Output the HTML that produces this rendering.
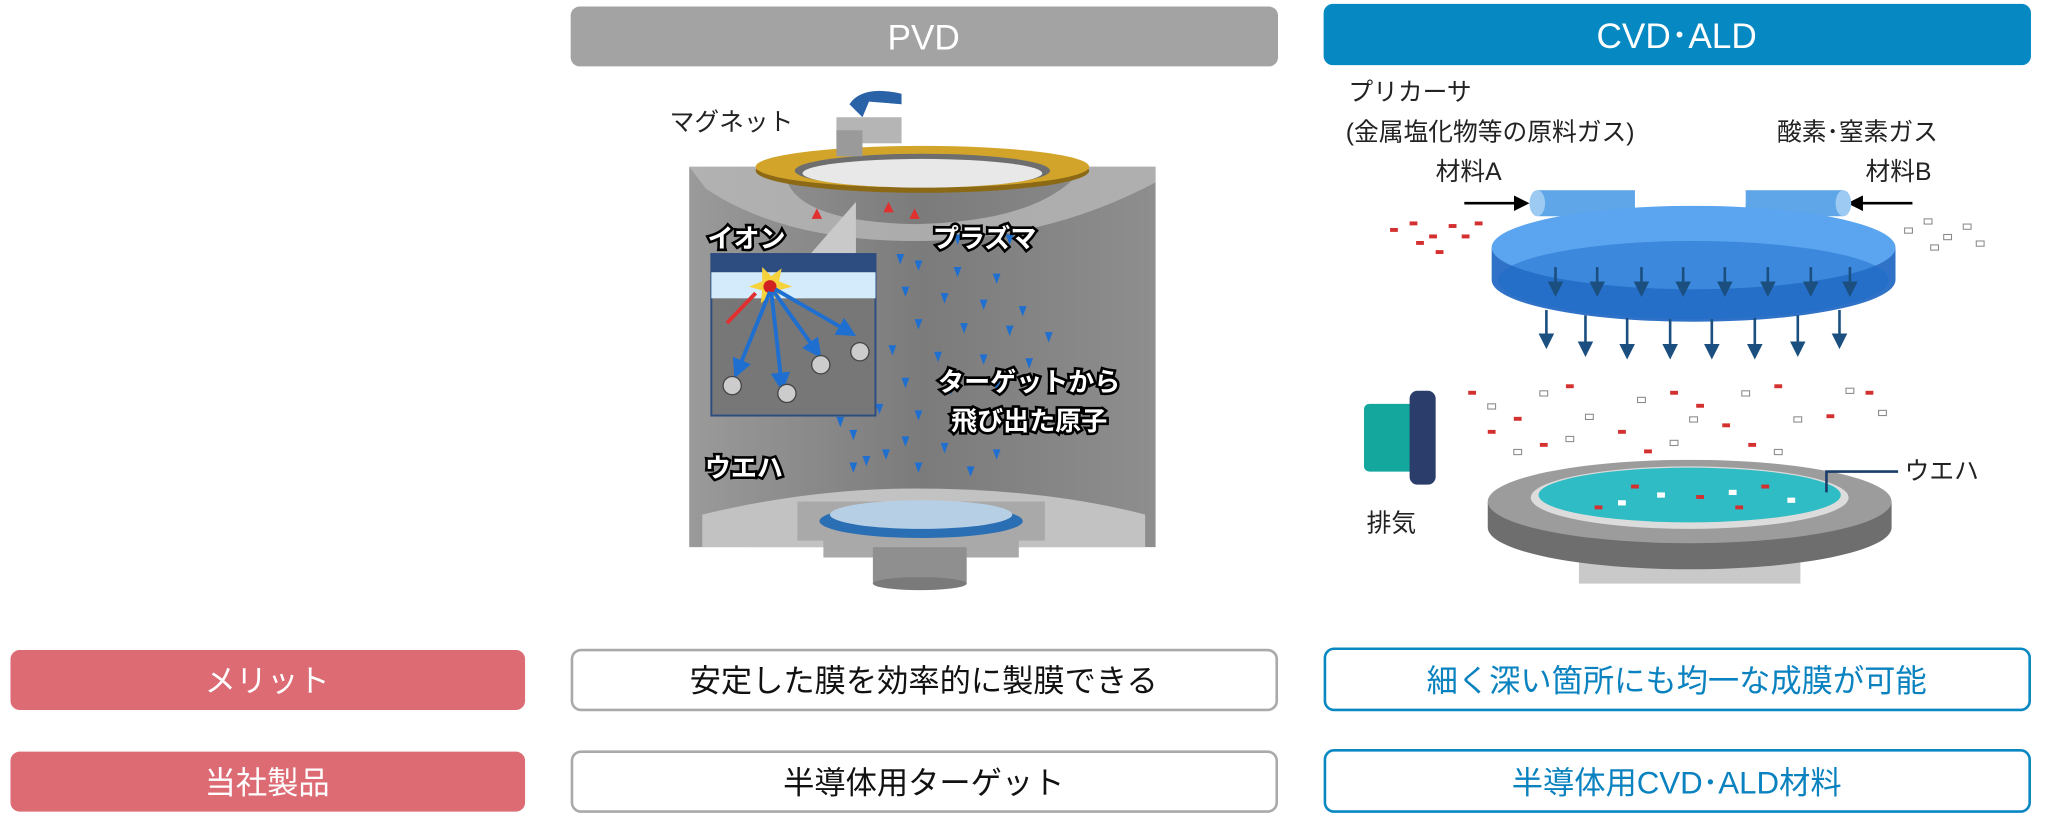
<!DOCTYPE html>
<html><head><meta charset="utf-8"><style>
html,body{margin:0;padding:0;background:#fff;}
svg{display:block;}
text{font-family:"Liberation Sans","Noto Sans CJK JP",sans-serif;}
</style></head><body>
<svg width="2048" height="822" viewBox="0 0 1568 631" xmlns="http://www.w3.org/2000/svg">
<defs>
<linearGradient id="body" x1="0" x2="1"><stop offset="0" stop-color="#9a9a9a"/><stop offset="0.5" stop-color="#7b7b7b"/><stop offset="1" stop-color="#8e8e8e"/></linearGradient>
<marker id="ab" markerWidth="6" markerHeight="6" refX="3" refY="3" orient="auto"><path d="M0,0 L6,3 L0,6 z" fill="#1a4f80"/></marker>
<marker id="ak" markerWidth="6" markerHeight="6" refX="5" refY="3" orient="auto"><path d="M0,0 L6,3 L0,6 z" fill="#000"/></marker>
<marker id="abl" markerWidth="5" markerHeight="5" refX="3" refY="2.5" orient="auto"><path d="M0,0 L5,2.5 L0,5 z" fill="#1f6fd0"/></marker>
</defs>

<rect x="436" y="5" width="543" height="46" rx="7" fill="#a3a3a3"/>
<text x="707" y="38" font-size="27" fill="#fff" text-anchor="middle">PVD</text>
<rect x="1014" y="3" width="543" height="47" rx="7" fill="#0689c3"/>
<text x="1285" y="37" font-size="27" fill="#fff" text-anchor="middle">CVD･ALD</text>

<path d="M527,128 L885,128 L885,420 L527,420 Z" fill="url(#body)"/>
<path d="M527,128 L600,128 Q600,170 700,172 Q800,170 830,128 L885,128 L885,140 Q800,185 700,185 Q600,185 540,145 Z" fill="#b8b8b8" opacity="0.8"/>
<path d="M537,420 L537,395 Q620,375 700,375 Q800,375 877,395 L877,420 Z" fill="#c2c2c2"/>
<ellipse cx="706" cy="131" rx="128" ry="17" fill="#8c6a15"/>
<ellipse cx="706" cy="128" rx="128" ry="16" fill="#d2a52a"/>
<ellipse cx="706" cy="131" rx="98" ry="13" fill="#6e6e6e"/>
<ellipse cx="706" cy="133" rx="92" ry="11" fill="#e8e8e8"/>
<rect x="640" y="90" width="50" height="20" fill="#b5b5b5"/>
<rect x="640" y="100" width="20" height="20" fill="#9a9a9a"/>
<path d="M650,80 Q660,65 690,72 L690,80 L665,78 L660,90 Z" fill="#2a62a8"/>
<path d="M610,385 L800,385 L800,415 L780,415 L780,428 L630,428 L630,415 L610,415 Z" fill="#a9a9a9"/>
<ellipse cx="705" cy="400" rx="78" ry="13" fill="#2a6fb4"/>
<ellipse cx="705" cy="395" rx="70" ry="11" fill="#b7cfe4"/>
<rect x="668" y="420" width="72" height="28" fill="#8f8f8f"/>
<ellipse cx="704" cy="448" rx="36" ry="5" fill="#7a7a7a"/>
<polygon points="620,195 655,155 655,195" fill="#c9c9c9"/>
<rect x="544" y="195" width="126" height="124" fill="#777" stroke="#2d4d80" stroke-width="1.5"/>
<rect x="544" y="195" width="126" height="14" fill="#2d4d80"/>
<rect x="544" y="209" width="126" height="20" fill="#d4ebfb"/>
<polygon points="583,205 590,212 598,206 596,216 606,220 595,223 598,232 589,226 582,233 583,223 573,220 583,216" fill="#f6d23c"/>
<circle cx="589" cy="220" r="5" fill="#d02020"/>
<g stroke="#1f6fd0" stroke-width="3" marker-end="url(#abl)">
<line x1="589" y1="224" x2="564" y2="285"/><line x1="590" y1="224" x2="598" y2="295"/><line x1="592" y1="224" x2="625" y2="270"/><line x1="593" y1="222" x2="650" y2="255"/>
</g>
<line x1="556" y1="248" x2="578" y2="225" stroke="#e03030" stroke-width="3"/>
<g fill="#ccc" stroke="#444"><circle cx="560" cy="296" r="7"/><circle cx="602" cy="302" r="7"/><circle cx="628" cy="280" r="7"/><circle cx="658" cy="270" r="7"/></g>
<g fill="#1f6fd0">
<path d="M686,195 l6,0 l-3,8z M700,200 l6,0 l-3,8z M730,205 l6,0 l-3,8z M760,210 l6,0 l-3,8z M690,220 l6,0 l-3,8z M720,225 l6,0 l-3,8z M750,230 l6,0 l-3,8z M780,235 l6,0 l-3,8z M700,245 l6,0 l-3,8z M735,248 l6,0 l-3,8z M770,250 l6,0 l-3,8z M800,255 l6,0 l-3,8z M680,265 l6,0 l-3,8z M715,270 l6,0 l-3,8z M750,272 l6,0 l-3,8z M785,275 l6,0 l-3,8z M690,290 l6,0 l-3,8z M725,295 l6,0 l-3,8z M760,292 l6,0 l-3,8z M670,310 l6,0 l-3,8z M700,315 l6,0 l-3,8z M740,318 l6,0 l-3,8z M650,330 l6,0 l-3,8z M690,335 l6,0 l-3,8z M720,340 l6,0 l-3,8z M760,345 l6,0 l-3,8z M660,350 l6,0 l-3,8z M700,355 l6,0 l-3,8z M740,358 l6,0 l-3,8z M675,345 l6,0 l-3,8z M730,180 l6,0 l-3,8z M770,180 l6,0 l-3,8z M640,320 l6,0 l-3,8z M650,355 l6,0 l-3,8z"/>
</g>
<g fill="#e03030"><path d="M625,160 l-4,8 l8,0z M680,155 l-4,8 l8,0z M700,160 l-4,8 l8,0z"/></g>
<g font-size="20" font-weight="bold" fill="#fff" stroke="#000" stroke-width="4" paint-order="stroke">
<text x="541" y="190">イオン</text><text x="714" y="190">プラズマ</text>
<text x="718" y="300">ターゲットから</text><text x="728" y="330">飛び出た原子</text>
<text x="539" y="366">ウエハ</text>
</g>
<text x="512" y="100" font-size="19" fill="#222">マグネット</text>

<text x="1033" y="77" font-size="19" fill="#222">プリカーサ</text>
<text x="1031" y="108" font-size="19" fill="#222">(金属塩化物等の原料ガス)</text>
<text x="1100" y="138" font-size="19" fill="#222">材料A</text>
<text x="1362" y="108" font-size="19" fill="#222">酸素･窒素ガス</text>
<text x="1430" y="138" font-size="19" fill="#222">材料B</text>
<line x1="1122" y1="156" x2="1170" y2="156" stroke="#000" stroke-width="2" marker-end="url(#ak)"/>
<line x1="1466" y1="156" x2="1418" y2="156" stroke="#000" stroke-width="2" marker-end="url(#ak)"/>
<rect x="1178" y="146" width="75" height="20" fill="#5ea6e8"/>
<ellipse cx="1178" cy="156" rx="6" ry="10" fill="#9ccaf2"/>
<rect x="1338" y="146" width="75" height="20" fill="#5ea6e8"/>
<ellipse cx="1413" cy="156" rx="6" ry="10" fill="#9ccaf2"/>
<rect x="1232" y="156" width="20" height="25" fill="#5ea6e8"/><rect x="1338" y="156" width="20" height="25" fill="#5ea6e8"/>
<path d="M1143,190 L1143,215 A155,32 0 0 0 1453,215 L1453,190 Z" fill="#2f72c8"/>
<ellipse cx="1298" cy="190" rx="155" ry="32" fill="#5aa4f0"/>
<ellipse cx="1298" cy="215" rx="150" ry="30" fill="#1d6cc8" opacity="0.5"/>
<g stroke="#1a4f80" stroke-width="2" marker-end="url(#ab)">
<line x1="1185" y1="238" x2="1185" y2="262"/><line x1="1215" y1="242" x2="1215" y2="268"/><line x1="1247" y1="244" x2="1247" y2="270"/><line x1="1280" y1="245" x2="1280" y2="270"/><line x1="1312" y1="245" x2="1312" y2="270"/><line x1="1345" y1="244" x2="1345" y2="270"/><line x1="1378" y1="242" x2="1378" y2="268"/><line x1="1410" y1="238" x2="1410" y2="262"/>
<line x1="1192" y1="205" x2="1192" y2="222"/><line x1="1224" y1="205" x2="1224" y2="222"/><line x1="1258" y1="205" x2="1258" y2="222"/><line x1="1290" y1="205" x2="1290" y2="222"/><line x1="1322" y1="205" x2="1322" y2="222"/><line x1="1355" y1="205" x2="1355" y2="222"/><line x1="1388" y1="205" x2="1388" y2="222"/><line x1="1418" y1="205" x2="1418" y2="222"/>
</g>
<g fill="#d43030">
<rect x="1065" y="175" width="6" height="3"/><rect x="1080" y="170" width="6" height="3"/><rect x="1095" y="180" width="6" height="3"/><rect x="1110" y="172" width="6" height="3"/><rect x="1085" y="185" width="6" height="3"/><rect x="1120" y="180" width="6" height="3"/><rect x="1100" y="192" width="6" height="3"/><rect x="1130" y="170" width="6" height="3"/>
<rect x="1125" y="300" width="6" height="3"/><rect x="1160" y="320" width="6" height="3"/><rect x="1200" y="295" width="6" height="3"/><rect x="1240" y="330" width="6" height="3"/><rect x="1280" y="300" width="6" height="3"/><rect x="1320" y="325" width="6" height="3"/><rect x="1360" y="295" width="6" height="3"/><rect x="1400" y="318" width="6" height="3"/><rect x="1430" y="300" width="6" height="3"/><rect x="1180" y="340" width="6" height="3"/><rect x="1260" y="345" width="6" height="3"/><rect x="1340" y="340" width="6" height="3"/><rect x="1140" y="330" width="6" height="3"/><rect x="1300" y="310" width="6" height="3"/>
</g>
<g fill="#fff" stroke="#888" stroke-width="0.8">
<rect x="1460" y="175" width="6" height="4"/><rect x="1475" y="168" width="6" height="4"/><rect x="1490" y="180" width="6" height="4"/><rect x="1505" y="172" width="6" height="4"/><rect x="1480" y="188" width="6" height="4"/><rect x="1515" y="185" width="6" height="4"/>
<rect x="1140" y="310" width="6" height="4"/><rect x="1180" y="300" width="6" height="4"/><rect x="1215" y="318" width="6" height="4"/><rect x="1255" y="305" width="6" height="4"/><rect x="1295" y="320" width="6" height="4"/><rect x="1335" y="300" width="6" height="4"/><rect x="1375" y="320" width="6" height="4"/><rect x="1415" y="298" width="6" height="4"/><rect x="1440" y="315" width="6" height="4"/><rect x="1200" y="335" width="6" height="4"/><rect x="1280" y="338" width="6" height="4"/><rect x="1360" y="345" width="6" height="4"/><rect x="1160" y="345" width="6" height="4"/>
</g>
<rect x="1045" y="310" width="40" height="52" rx="4" fill="#13a79e"/>
<rect x="1080" y="300" width="20" height="72" rx="6" fill="#2b3d6a"/>
<text x="1047" y="408" font-size="19" fill="#222">排気</text>
<rect x="1210" y="400" width="170" height="48" fill="#c9c9c9"/>
<path d="M1140,385 L1140,405 A155,32 0 0 0 1450,405 L1450,385 Z" fill="#6e6e6e"/>
<ellipse cx="1295" cy="385" rx="155" ry="32" fill="#9c9c9c"/>
<ellipse cx="1295" cy="382" rx="122" ry="24" fill="#dcdcdc"/>
<ellipse cx="1295" cy="380" rx="116" ry="21" fill="#2fbcc4"/>
<g fill="#d43030"><rect x="1250" y="372" width="6" height="3"/><rect x="1300" y="380" width="6" height="3"/><rect x="1350" y="372" width="6" height="3"/><rect x="1222" y="388" width="6" height="3"/><rect x="1330" y="388" width="6" height="3"/></g>
<g fill="#fff"><rect x="1270" y="378" width="6" height="4"/><rect x="1325" y="376" width="6" height="4"/><rect x="1240" y="384" width="6" height="4"/><rect x="1370" y="382" width="6" height="4"/></g>
<polyline points="1400,378 1400,362 1455,362" fill="none" stroke="#1a3d6a" stroke-width="2"/>
<text x="1460" y="368" font-size="19" fill="#222">ウエハ</text>

<rect x="6" y="499" width="395" height="46" rx="7" fill="#dc6b74"/>
<text x="203" y="531" font-size="24" fill="#fff" text-anchor="middle">メリット</text>
<rect x="437" y="499" width="541" height="46" rx="7" fill="#fff" stroke="#aaa" stroke-width="2"/>
<text x="707" y="531" font-size="24" fill="#111" text-anchor="middle">安定した膜を効率的に製膜できる</text>
<rect x="1015" y="498" width="541" height="47" rx="7" fill="#fff" stroke="#0a88c2" stroke-width="2"/>
<text x="1285" y="531" font-size="24" fill="#0a82bf" text-anchor="middle">細く深い箇所にも均一な成膜が可能</text>
<rect x="6" y="577" width="395" height="46" rx="7" fill="#dc6b74"/>
<text x="203" y="609" font-size="24" fill="#fff" text-anchor="middle">当社製品</text>
<rect x="437" y="577" width="541" height="46" rx="7" fill="#fff" stroke="#aaa" stroke-width="2"/>
<text x="707" y="609" font-size="24" fill="#111" text-anchor="middle">半導体用ターゲット</text>
<rect x="1015" y="576" width="541" height="47" rx="7" fill="#fff" stroke="#0a88c2" stroke-width="2"/>
<text x="1285" y="609" font-size="24" fill="#0a82bf" text-anchor="middle">半導体用CVD･ALD材料</text>
</svg>
</body></html>
